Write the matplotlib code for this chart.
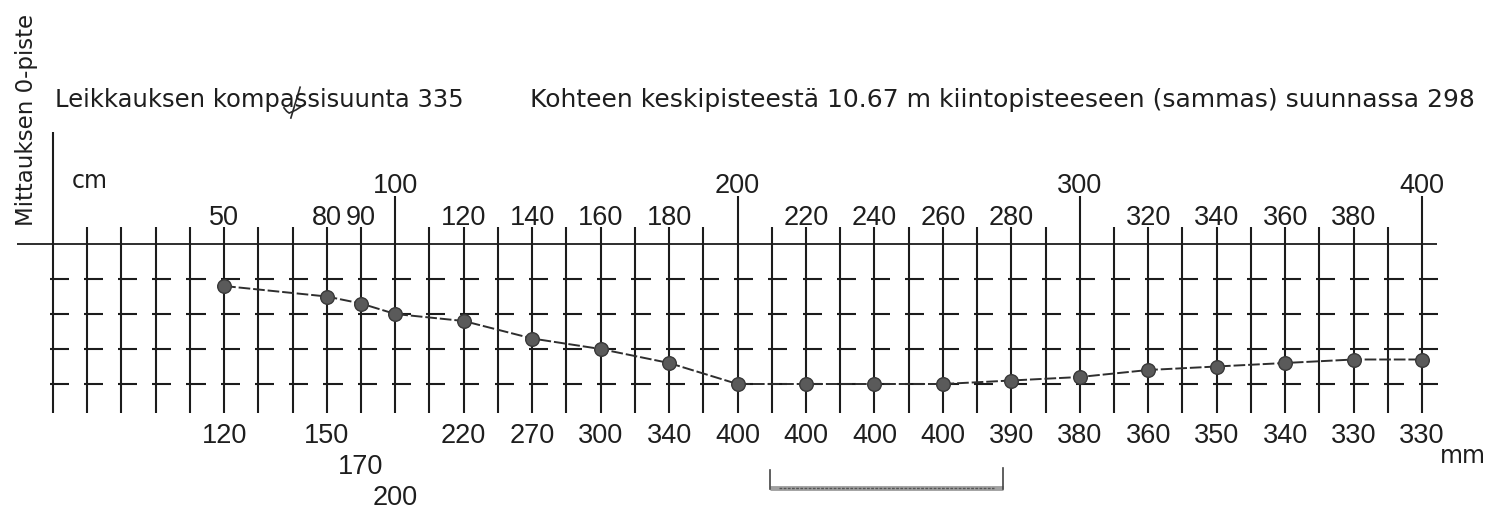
import numpy as np
import matplotlib
matplotlib.use("Agg")
import matplotlib.pyplot as plt

# ---- data ----
distance_cm = [50, 80, 90, 100, 120, 140, 160, 180, 200, 220, 240, 260, 280,
               300, 320, 340, 360, 380, 400]
depth_mm = [120, 150, 170, 200, 220, 270, 300, 340, 400, 400, 400, 400, 390,
            380, 360, 350, 340, 330, 330]
grid_cm = list(range(0, 401, 10))
depth_ticks_mm = [100, 200, 300, 400]

title_left = "Leikkauksen kompassisuunta 335"
title_right = "Kohteen keskipisteestä 10.67 m kiintopisteeseen (sammas) suunnassa 298"
ylabel = "Mittauksen 0-piste"
unit_x = "cm"
unit_depth = "mm"

# ---- figure: one axes covering the whole canvas ----
W, H, DPI = 1485, 512, 100
fig = plt.figure(figsize=(W / DPI, H / DPI), dpi=DPI)
ax = fig.add_axes([0, 0, 1, 1])
px_per_cm = 3.4225
px_per_mm = 0.35
x0_px, y0_px = 53.0, 244.0
ax.set_xlim(-x0_px / px_per_cm, (W - x0_px) / px_per_cm)
ax.set_ylim((H - y0_px) / px_per_mm, -y0_px / px_per_mm)
ax.axis("off")

LC = "#1c1c1c"
LW = 1.5
TC = "#1e1e1e"
num_font = ["Liberation Sans Narrow", "Liberation Sans", "DejaVu Sans"]
txt_font = ["DejaVu Sans"]
NUM_SIZE = 19.5

# baseline (0-level)
ax.plot([-10.5, 404.5], [0, 0], color=LC, lw=1.3, solid_capstyle="butt")

# vertical grid lines with depth ticks
bottom = 483
for g in grid_cm:
    if g == 0:
        top = -320
    elif g % 100 == 0:
        top = -137
    else:
        top = -49
    ax.plot([g, g], [top, bottom], color=LC, lw=LW, solid_capstyle="butt")
    for d in depth_ticks_mm:
        ax.plot([g - 1.0, g + 4.6], [d, d], color=LC, lw=LW,
                solid_capstyle="butt")

# profile
ax.plot(distance_cm, depth_mm, color="#2e2e2e", lw=1.4,
        linestyle=(0, (6, 1.5)), zorder=3)
ax.plot(distance_cm, depth_mm, linestyle="none", marker="o", markersize=9.8,
        markerfacecolor="#5a5a5a", markeredgecolor="#383838",
        markeredgewidth=1.0, zorder=4)

# top labels (distance, cm)
for x in distance_cm:
    yb = -146 if x % 100 == 0 else -54
    ax.text(x, yb, str(x), ha="center", va="baseline", family=num_font,
            fontsize=NUM_SIZE, color=TC)

# bottom labels (depth, mm), stacked when points are close together
row = 0
prev = None
for x, d in zip(distance_cm, depth_mm):
    if prev is not None and x - prev < 20:
        row += 1
    else:
        row = 0
    prev = x
    ax.text(x, 549 + row * 89, str(d), ha="center", va="center",
            family=num_font, fontsize=NUM_SIZE, color=TC)

# texts
ax.text(0.58, -391, title_left, ha="left", va="baseline", family=txt_font,
        fontsize=17.5, color=TC)
ax.text(139.4, -391, title_right, ha="left", va="baseline", family=txt_font,
        fontsize=18.0, color=TC)
ax.text(-7.8, -354, ylabel, ha="center", va="center", rotation=90,
        family=txt_font, fontsize=16.5, color=TC)
ax.text(5.5, -160, unit_x, ha="left", va="baseline", family=txt_font,
        fontsize=17, color=TC)
ax.text(405.3, 626, unit_depth, ha="left", va="baseline", family=txt_font,
        fontsize=17, color=TC)

# handwritten mark over the first title
ax.plot([67.5, 68.3, 69.0, 71.0, 73.6], [-389, -379, -374, -383, -400],
        color="#2a2a2a", lw=1.2)
ax.plot([72.2, 69.5], [-448, -360], color="#2a2a2a", lw=1.2)

# scale bar at the bottom
ax.plot([209.5, 277.6], [697, 697], color="#a0a0a0", lw=3.5,
        solid_capstyle="butt")
ax.plot([212, 275], [697, 697], color="#555555", lw=1.0,
        linestyle=(0, (2, 1)))
ax.plot([209.5, 209.5], [645, 700], color="#444444", lw=1.2)
ax.plot([277.6, 277.6], [640, 700], color="#444444", lw=1.2)

fig.savefig("out.png", dpi=DPI, facecolor="white")
